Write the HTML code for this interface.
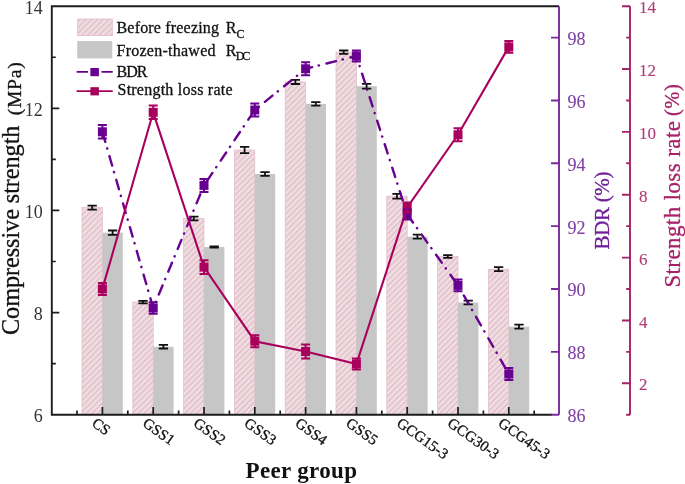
<!DOCTYPE html>
<html><head><meta charset="utf-8"><style>
html,body{margin:0;padding:0;background:#fff;}
body{width:685px;height:484px;overflow:hidden;position:relative;font-family:"Liberation Serif",serif;}
svg{position:absolute;left:0;top:0;will-change:transform;}
svg text{font-family:"Liberation Serif",serif;}
svg text.s{stroke-width:0.3px;}
</style></head><body>
<svg width="685" height="484" viewBox="0 0 685 484">
<defs>
<pattern id="hatch" patternUnits="userSpaceOnUse" width="4.1" height="10" patternTransform="rotate(45)">
<rect x="0" y="0" width="4.1" height="10" fill="#EEDDE1"/>
<rect x="0" y="0" width="1.3" height="10" fill="#E3BCC8"/>
</pattern>
</defs>
<rect x="0" y="0" width="685" height="484" fill="#fff"/>
<g>
<rect x="82.00" y="207.60" width="20.40" height="207.10" fill="url(#hatch)" stroke="#E3B9C6" stroke-width="0.7"/>
<rect x="102.40" y="232.70" width="20.40" height="182.00" fill="#C6C6C6"/>
<rect x="132.80" y="302.10" width="20.40" height="112.60" fill="url(#hatch)" stroke="#E3B9C6" stroke-width="0.7"/>
<rect x="153.20" y="346.70" width="20.40" height="68.00" fill="#C6C6C6"/>
<rect x="183.60" y="218.50" width="20.40" height="196.20" fill="url(#hatch)" stroke="#E3B9C6" stroke-width="0.7"/>
<rect x="204.00" y="247.00" width="20.40" height="167.70" fill="#C6C6C6"/>
<rect x="234.40" y="150.00" width="20.40" height="264.70" fill="url(#hatch)" stroke="#E3B9C6" stroke-width="0.7"/>
<rect x="254.80" y="174.00" width="20.40" height="240.70" fill="#C6C6C6"/>
<rect x="285.20" y="81.90" width="20.40" height="332.80" fill="url(#hatch)" stroke="#E3B9C6" stroke-width="0.7"/>
<rect x="305.60" y="103.90" width="20.40" height="310.80" fill="#C6C6C6"/>
<rect x="336.00" y="52.20" width="20.40" height="362.50" fill="url(#hatch)" stroke="#E3B9C6" stroke-width="0.7"/>
<rect x="356.40" y="86.20" width="20.40" height="328.50" fill="#C6C6C6"/>
<rect x="386.80" y="196.20" width="20.40" height="218.50" fill="url(#hatch)" stroke="#E3B9C6" stroke-width="0.7"/>
<rect x="407.20" y="236.70" width="20.40" height="178.00" fill="#C6C6C6"/>
<rect x="437.60" y="256.50" width="20.40" height="158.20" fill="url(#hatch)" stroke="#E3B9C6" stroke-width="0.7"/>
<rect x="458.00" y="302.50" width="20.40" height="112.20" fill="#C6C6C6"/>
<rect x="488.40" y="269.20" width="20.40" height="145.50" fill="url(#hatch)" stroke="#E3B9C6" stroke-width="0.7"/>
<rect x="508.80" y="326.70" width="20.40" height="88.00" fill="#C6C6C6"/>
<path d="M92.20 205.60V209.60M87.55 205.60H96.85M87.55 209.60H96.85" stroke="#111" stroke-width="1.8" fill="none"/>
<path d="M112.60 230.50V234.90M107.95 230.50H117.25M107.95 234.90H117.25" stroke="#111" stroke-width="1.8" fill="none"/>
<path d="M143.00 300.80V303.40M138.35 300.80H147.65M138.35 303.40H147.65" stroke="#111" stroke-width="1.8" fill="none"/>
<path d="M163.40 344.90V348.50M158.75 344.90H168.05M158.75 348.50H168.05" stroke="#111" stroke-width="1.8" fill="none"/>
<path d="M193.80 216.70V220.30M189.15 216.70H198.45M189.15 220.30H198.45" stroke="#111" stroke-width="1.8" fill="none"/>
<path d="M214.20 246.40V247.60M209.55 246.40H218.85M209.55 247.60H218.85" stroke="#111" stroke-width="1.8" fill="none"/>
<path d="M244.60 146.90V153.10M239.95 146.90H249.25M239.95 153.10H249.25" stroke="#111" stroke-width="1.8" fill="none"/>
<path d="M265.00 172.10V175.90M260.35 172.10H269.65M260.35 175.90H269.65" stroke="#111" stroke-width="1.8" fill="none"/>
<path d="M295.40 79.80V84.00M290.75 79.80H300.05M290.75 84.00H300.05" stroke="#111" stroke-width="1.8" fill="none"/>
<path d="M315.80 102.10V105.70M311.15 102.10H320.45M311.15 105.70H320.45" stroke="#111" stroke-width="1.8" fill="none"/>
<path d="M343.70 50.50V53.90M339.05 50.50H348.35M339.05 53.90H348.35" stroke="#111" stroke-width="1.8" fill="none"/>
<path d="M366.60 83.80V88.60M361.95 83.80H371.25M361.95 88.60H371.25" stroke="#111" stroke-width="1.8" fill="none"/>
<path d="M397.00 193.80V198.60M392.35 193.80H401.65M392.35 198.60H401.65" stroke="#111" stroke-width="1.8" fill="none"/>
<path d="M417.40 234.70V238.70M412.75 234.70H422.05M412.75 238.70H422.05" stroke="#111" stroke-width="1.8" fill="none"/>
<path d="M447.80 255.10V257.90M443.15 255.10H452.45M443.15 257.90H452.45" stroke="#111" stroke-width="1.8" fill="none"/>
<path d="M468.20 300.70V304.30M463.55 300.70H472.85M463.55 304.30H472.85" stroke="#111" stroke-width="1.8" fill="none"/>
<path d="M498.60 267.20V271.20M493.95 267.20H503.25M493.95 271.20H503.25" stroke="#111" stroke-width="1.8" fill="none"/>
<path d="M519.00 324.70V328.70M514.35 324.70H523.65M514.35 328.70H523.65" stroke="#111" stroke-width="1.8" fill="none"/>
<polyline points="102.40,131.80 153.20,308.00 204.00,185.40 254.80,110.00 305.60,68.80 356.40,56.00 407.20,214.40 458.00,285.40 508.80,374.00" fill="none" stroke="#680090" stroke-width="2.4" stroke-linecap="round" stroke-dasharray="9.8 6.75 0.3 7.82" stroke-dashoffset="-0.6"/>
<rect x="97.90" y="127.30" width="9" height="9" fill="#680090"/>
<rect x="148.70" y="303.50" width="9" height="9" fill="#680090"/>
<rect x="199.50" y="180.90" width="9" height="9" fill="#680090"/>
<rect x="250.30" y="105.50" width="9" height="9" fill="#680090"/>
<rect x="301.10" y="64.30" width="9" height="9" fill="#680090"/>
<rect x="351.90" y="51.50" width="9" height="9" fill="#680090"/>
<rect x="402.70" y="209.90" width="9" height="9" fill="#680090"/>
<rect x="453.50" y="280.90" width="9" height="9" fill="#680090"/>
<rect x="504.30" y="369.50" width="9" height="9" fill="#680090"/>
<polyline points="102.40,288.90 153.20,112.30 204.00,267.10 254.80,341.20 305.60,351.50 356.40,364.00 407.20,207.50 458.00,134.80 508.80,46.90" fill="none" stroke="#A8005C" stroke-width="2.1"/>
<rect x="97.90" y="284.40" width="9" height="9" fill="#A8005C"/>
<rect x="148.70" y="107.80" width="9" height="9" fill="#A8005C"/>
<rect x="199.50" y="262.60" width="9" height="9" fill="#A8005C"/>
<rect x="250.30" y="336.70" width="9" height="9" fill="#A8005C"/>
<rect x="301.10" y="347.00" width="9" height="9" fill="#A8005C"/>
<rect x="351.90" y="359.50" width="9" height="9" fill="#A8005C"/>
<rect x="402.70" y="203.00" width="9" height="9" fill="#A8005C"/>
<rect x="453.50" y="130.30" width="9" height="9" fill="#A8005C"/>
<rect x="504.30" y="42.40" width="9" height="9" fill="#A8005C"/>
<path d="M102.40 125.00V138.60M97.90 125.00H106.90M97.90 138.60H106.90" stroke="#680090" stroke-width="2" fill="none"/>
<path d="M153.20 302.20V313.80M148.70 302.20H157.70M148.70 313.80H157.70" stroke="#680090" stroke-width="2" fill="none"/>
<path d="M204.00 178.90V191.90M199.50 178.90H208.50M199.50 191.90H208.50" stroke="#680090" stroke-width="2" fill="none"/>
<path d="M254.80 103.50V116.50M250.30 103.50H259.30M250.30 116.50H259.30" stroke="#680090" stroke-width="2" fill="none"/>
<path d="M305.60 62.30V75.30M301.10 62.30H310.10M301.10 75.30H310.10" stroke="#680090" stroke-width="2" fill="none"/>
<path d="M356.40 50.50V61.50M351.90 50.50H360.90M351.90 61.50H360.90" stroke="#680090" stroke-width="2" fill="none"/>
<path d="M407.20 209.40V219.40M402.70 209.40H411.70M402.70 219.40H411.70" stroke="#680090" stroke-width="2" fill="none"/>
<path d="M458.00 279.60V291.20M453.50 279.60H462.50M453.50 291.20H462.50" stroke="#680090" stroke-width="2" fill="none"/>
<path d="M508.80 368.00V380.00M504.30 368.00H513.30M504.30 380.00H513.30" stroke="#680090" stroke-width="2" fill="none"/>
<path d="M102.40 282.90V294.90M97.90 282.90H106.90M97.90 294.90H106.90" stroke="#A8005C" stroke-width="2" fill="none"/>
<path d="M153.20 105.60V119.00M148.70 105.60H157.70M148.70 119.00H157.70" stroke="#A8005C" stroke-width="2" fill="none"/>
<path d="M204.00 260.30V273.90M199.50 260.30H208.50M199.50 273.90H208.50" stroke="#A8005C" stroke-width="2" fill="none"/>
<path d="M254.80 335.20V347.20M250.30 335.20H259.30M250.30 347.20H259.30" stroke="#A8005C" stroke-width="2" fill="none"/>
<path d="M305.60 344.50V358.50M301.10 344.50H310.10M301.10 358.50H310.10" stroke="#A8005C" stroke-width="2" fill="none"/>
<path d="M356.40 358.50V369.50M351.90 358.50H360.90M351.90 369.50H360.90" stroke="#A8005C" stroke-width="2" fill="none"/>
<path d="M407.20 202.50V212.50M402.70 202.50H411.70M402.70 212.50H411.70" stroke="#A8005C" stroke-width="2" fill="none"/>
<path d="M458.00 128.30V141.30M453.50 128.30H462.50M453.50 141.30H462.50" stroke="#A8005C" stroke-width="2" fill="none"/>
<path d="M508.80 41.10V52.70M504.30 41.10H513.30M504.30 52.70H513.30" stroke="#A8005C" stroke-width="2" fill="none"/>
<path d="M559 6.2H51.8V414.7H552" stroke="#1c1c1c" stroke-width="1.9" fill="none" stroke-linejoin="miter"/>
<path d="M51.8 363.64H55.8 M51.8 312.57H59.3 M51.8 261.51H55.8 M51.8 210.45H59.3 M51.8 159.39H55.8 M51.8 108.32H59.3 M51.8 57.26H55.8 M102.40 414.7V407 M153.20 414.7V407 M204.00 414.7V407 M254.80 414.7V407 M305.60 414.7V407 M356.40 414.7V407 M407.20 414.7V407 M458.00 414.7V407 M508.80 414.7V407 M77.00 414.7V410.5 M127.80 414.7V410.5 M178.60 414.7V410.5 M229.40 414.7V410.5 M280.20 414.7V410.5 M331.00 414.7V410.5 M381.80 414.7V410.5 M432.60 414.7V410.5 M483.40 414.7V410.5 M534.20 414.7V410.5" stroke="#1c1c1c" stroke-width="1.7" fill="none"/>
<path d="M559 6.2V414.7 M559 414.70H551 M559 351.85H551 M559 289.01H551 M559 226.16H551 M559 163.32H551 M559 100.47H551 M559 37.62H551" stroke="#7A2A9E" stroke-width="1.9" fill="none"/>
<path d="M630 6.2V414.9 M630 414.70H626.2 M630 383.28H622 M630 351.85H626.2 M630 320.43H622 M630 289.01H626.2 M630 257.59H622 M630 226.16H626.2 M630 194.74H622 M630 163.32H626.2 M630 131.89H622 M630 100.47H626.2 M630 69.05H622 M630 37.62H626.2 M630 6.20H622" stroke="#A82068" stroke-width="1.9" fill="none"/>
<text x="42.80" y="422.10" font-size="18" fill="#333" text-anchor="end">6</text>
<text x="42.80" y="319.97" font-size="18" fill="#333" text-anchor="end">8</text>
<text x="42.80" y="217.85" font-size="18" fill="#333" text-anchor="end">10</text>
<text x="42.80" y="115.72" font-size="18" fill="#333" text-anchor="end">12</text>
<text x="42.80" y="13.60" font-size="18" fill="#333" text-anchor="end">14</text>
<text x="567.60" y="422.10" font-size="18" fill="#8040A5" stroke="#8040A5" stroke-width="0.1">86</text>
<text x="567.60" y="359.25" font-size="18" fill="#8040A5" stroke="#8040A5" stroke-width="0.1">88</text>
<text x="567.60" y="296.41" font-size="18" fill="#8040A5" stroke="#8040A5" stroke-width="0.1">90</text>
<text x="567.60" y="233.56" font-size="18" fill="#8040A5" stroke="#8040A5" stroke-width="0.1">92</text>
<text x="567.60" y="170.72" font-size="18" fill="#8040A5" stroke="#8040A5" stroke-width="0.1">94</text>
<text x="567.60" y="107.87" font-size="18" fill="#8040A5" stroke="#8040A5" stroke-width="0.1">96</text>
<text x="567.60" y="45.02" font-size="18" fill="#8040A5" stroke="#8040A5" stroke-width="0.1">98</text>
<text x="639.00" y="390.48" font-size="17" fill="#B03A78" stroke="#B03A78" stroke-width="0.1">2</text>
<text x="639.00" y="327.63" font-size="17" fill="#B03A78" stroke="#B03A78" stroke-width="0.1">4</text>
<text x="639.00" y="264.79" font-size="17" fill="#B03A78" stroke="#B03A78" stroke-width="0.1">6</text>
<text x="639.00" y="201.94" font-size="17" fill="#B03A78" stroke="#B03A78" stroke-width="0.1">8</text>
<text x="639.00" y="139.09" font-size="17" fill="#B03A78" stroke="#B03A78" stroke-width="0.1">10</text>
<text x="639.00" y="76.25" font-size="17" fill="#B03A78" stroke="#B03A78" stroke-width="0.1">12</text>
<text x="639.00" y="13.40" font-size="17" fill="#B03A78" stroke="#B03A78" stroke-width="0.1">14</text>
<text transform="translate(97.90,415.50) rotate(35.5)" font-size="15" fill="#111" dy="12" stroke="#111" stroke-width="0.3">CS</text>
<text transform="translate(148.70,415.50) rotate(35.5)" font-size="15" fill="#111" dy="12" stroke="#111" stroke-width="0.3">GSS1</text>
<text transform="translate(199.50,415.50) rotate(35.5)" font-size="15" fill="#111" dy="12" stroke="#111" stroke-width="0.3">GSS2</text>
<text transform="translate(250.30,415.50) rotate(35.5)" font-size="15" fill="#111" dy="12" stroke="#111" stroke-width="0.3">GSS3</text>
<text transform="translate(301.10,415.50) rotate(35.5)" font-size="15" fill="#111" dy="12" stroke="#111" stroke-width="0.3">GSS4</text>
<text transform="translate(351.90,415.50) rotate(35.5)" font-size="15" fill="#111" dy="12" stroke="#111" stroke-width="0.3">GSS5</text>
<text transform="translate(402.70,415.50) rotate(35.5)" font-size="15" fill="#111" dy="12" stroke="#111" stroke-width="0.3">GCG15-3</text>
<text transform="translate(453.50,415.50) rotate(35.5)" font-size="15" fill="#111" dy="12" stroke="#111" stroke-width="0.3">GCG30-3</text>
<text transform="translate(504.30,415.50) rotate(35.5)" font-size="15" fill="#111" dy="12" stroke="#111" stroke-width="0.3">GCG45-3</text>
<text transform="translate(18.70,335.00) rotate(-90)" font-size="24.3" fill="#111" textLength="209.5" lengthAdjust="spacing" stroke="#111" stroke-width="0.3">Compressive strength</text>
<text transform="translate(20.60,115.30) rotate(-90)" font-size="19.5" fill="#111" textLength="53" lengthAdjust="spacing" stroke="#111" stroke-width="0.3">(MPa)</text>
<text x="245.50" y="477.70" font-size="23" fill="#111" font-weight="bold" textLength="111.5" lengthAdjust="spacing">Peer group</text>
<text transform="translate(608.60,249.50) rotate(-90)" font-size="21" fill="#6E1E98" textLength="78" lengthAdjust="spacing" stroke="#6E1E98" stroke-width="0.3">BDR (%)</text>
<text transform="translate(680.30,287.60) rotate(-90)" font-size="23" fill="#A82068" textLength="166.5" lengthAdjust="spacing" stroke="#A82068" stroke-width="0.3">Strength loss rate</text>
<text transform="translate(679.40,116.00) rotate(-90)" font-size="20.5" fill="#A82068" textLength="31.8" lengthAdjust="spacing" stroke="#A82068" stroke-width="0.3">(%)</text>
<rect x="77.7" y="19" width="34.6" height="16.6" fill="url(#hatch)" stroke="#E3B9C6" stroke-width="0.8"/>
<rect x="77.2" y="41.1" width="35.1" height="17.3" fill="#C6C6C6"/>
<path d="M76.6 71.8H88M101.5 71.8H112.7" stroke="#680090" stroke-width="1.7"/>
<rect x="90.4" y="68" width="8.5" height="8.2" fill="#680090"/>
<path d="M76.6 91.2H112.7" stroke="#A8005C" stroke-width="1.7"/>
<rect x="90.4" y="87.2" width="8.5" height="8.2" fill="#A8005C"/>
<text x="116.50" y="32.70" font-size="16" fill="#111" textLength="102.5" lengthAdjust="spacing" stroke="#111" stroke-width="0.3">Before freezing</text>
<text x="225.80" y="32.70" font-size="16" fill="#111" stroke="#111" stroke-width="0.3">R</text>
<text x="236.50" y="37.90" font-size="12" fill="#111" stroke="#111" stroke-width="0.3">C</text>
<text x="116.50" y="55.50" font-size="16" fill="#111" textLength="99" lengthAdjust="spacing" stroke="#111" stroke-width="0.3">Frozen-thawed</text>
<text x="225.80" y="56.10" font-size="16" fill="#111" stroke="#111" stroke-width="0.3">R</text>
<text x="235.80" y="60.30" font-size="12" fill="#111" textLength="14.5" lengthAdjust="spacing" stroke="#111" stroke-width="0.3">DC</text>
<text x="116.50" y="77.30" font-size="16" fill="#111" textLength="31" lengthAdjust="spacing" stroke="#111" stroke-width="0.3">BDR</text>
<text x="117.50" y="95.30" font-size="16" fill="#111" textLength="115" lengthAdjust="spacing" stroke="#111" stroke-width="0.3">Strength loss rate</text>
</g></svg>
</body></html>
